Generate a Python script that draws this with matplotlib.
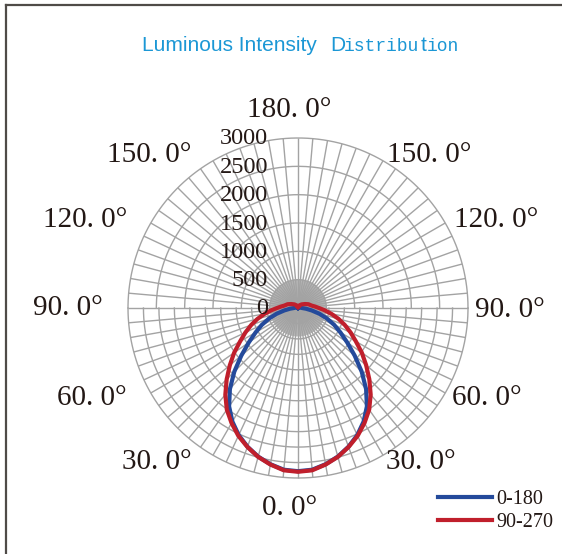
import numpy as np
import matplotlib
matplotlib.use("Agg")
from matplotlib import pyplot as plt
from matplotlib.lines import Line2D
from matplotlib.transforms import offset_copy

# Vinkler fra nadir (grader) og lysstyrke (cd) for de to planer
angles = [0, 5, 10, 15, 20, 25, 30, 35, 40, 45, 50, 55, 60, 65, 70,
          75, 80, 85, 90, 95, 100, 110, 120, 135, 150, 165, 180]
plane_0_180 = [2880, 2865, 2800, 2715, 2605, 2475, 2315, 2120, 1870, 1590,
               1305, 1060, 865, 705, 545, 390, 245, 140, 70, 55, 35, 25,
               18, 10, 0, 0, 0]
plane_90_270 = [2890, 2875, 2805, 2720, 2610, 2490, 2345, 2190, 1995, 1780,
                1570, 1375, 1180, 1025, 880, 740, 600, 475, 370, 300, 245,
                195, 140, 90, 55, 35, 20]
series_labels = ["0-180", "90-270"]

ring_values = [0, 500, 1000, 1500, 2000, 2500, 3000]
ring_labels = ["0", "500", "1000", "1500", "2000", "2500", "3000"]
angle_labels = ["180. 0°", "150. 0°", "150. 0°", "120. 0°", "120. 0°",
                "90. 0°", "90. 0°", "60. 0°", "60. 0°", "30. 0°", "30. 0°",
                "0. 0°"]
# placering af vinkeltekster i pixels (x, y fra toppen)
angle_label_pos = [(289, 110), (149, 155), (429, 155), (85, 220), (496, 220),
                   (68, 308), (510, 310), (92, 398), (487, 398), (157, 462),
                   (421, 462), (290, 508)]

W, H = 562, 554
GRID = "#a3a3a3"
TEXT = "#231815"
SERIF = "Liberation Serif"


def mirror(values):
    """Spejler en halv kurve (0..180) til hele cirklen."""
    a = np.deg2rad(np.asarray(angles, dtype=float))
    v = np.asarray(values, dtype=float)
    theta = np.concatenate([-a[::-1], a[1:]])
    r = np.concatenate([v[::-1], v[1:]])
    return theta, r


fig = plt.figure(figsize=(W / 100, H / 100), dpi=100)
ax = fig.add_axes([128 / W, (H - 478) / H, 340 / W, 340 / H], projection="polar")
ax.set_theta_zero_location("S")
ax.set_ylim(0, ring_values[-1])
ax.set_axis_off()

rmax = ring_values[-1]

# tætte eger i midten
ax.vlines(np.deg2rad(np.arange(0, 360, 1)), 0, 500, color="#b4b4b4",
          lw=0.6, clip_on=False, zorder=1)
# eger for hver 5 grader
ax.vlines(np.deg2rad(np.arange(0, 360, 5)), 0, rmax, color=GRID,
          lw=1.0, clip_on=False, zorder=1)

# ringe: øverste halvdel hver 500, nederste halvdel i 11 trin
upper = np.linspace(np.pi / 2, 3 * np.pi / 2, 200)
lower = np.linspace(-np.pi / 2, np.pi / 2, 200)
for rv in ring_values[1:]:
    ax.plot(upper, np.full_like(upper, rv), color=GRID, lw=1.0,
            clip_on=False, zorder=1)
for k in range(1, 12):
    ax.plot(lower, np.full_like(lower, rmax * k / 11), color=GRID, lw=1.0,
            clip_on=False, zorder=1)

# kurverne
th, r = mirror(plane_0_180)
l1, = ax.plot(th, r, color="#244a9b", lw=3, clip_on=False, zorder=3)
th, r = mirror(plane_90_270)
l2, = ax.plot(th, r, color="#c01f2c", lw=3, clip_on=False, zorder=4)

# radiale værdier langs den lodrette akse
trans = offset_copy(ax.transData, fig=fig, x=-30, y=-1, units="dots")
for rv, lab in zip(ring_values, ring_labels):
    ax.text(np.pi, rv, lab, transform=trans, ha="right", va="center",
            fontsize=17.5, family=SERIF, color=TEXT, zorder=5)

# vinkeltekster
for lab, (x, y) in zip(angle_labels, angle_label_pos):
    fig.text(x / W, 1 - y / H, lab, ha="center", va="center",
             fontsize=21, family=SERIF, color=TEXT)

# titel i blandede skrifttyper
BLUE = "#1b97d5"
base = 1 - 51 / H
fig.text(142 / W, base, "Luminous Intensity", fontsize=15,
         family="Liberation Sans", color=BLUE, va="baseline")
fig.text(330 / W, base, "D", fontsize=15, family="Liberation Sans",
         color=BLUE, va="baseline")
fig.text(344 / W, base, "istribu", fontsize=13, family="Liberation Mono",
         color=BLUE, va="baseline")
fig.text(421 / W, base, "t", fontsize=15, family="Liberation Sans",
         color=BLUE, va="baseline")
fig.text(427 / W, base, "ion", fontsize=13, family="Liberation Mono",
         color=BLUE, va="baseline")

# legende
fig.legend([l1, l2], series_labels, loc="upper left",
           bbox_to_anchor=(438 / W, 1 - 490 / H), frameon=False,
           prop={"family": SERIF, "size": 14.5}, handlelength=2.7,
           handletextpad=0.2, labelspacing=0.2, borderpad=0,
           borderaxespad=0, labelcolor=TEXT)

# ramme øverst og til venstre
fig.add_artist(Line2D([6.5 / W, 6.5 / W], [0, 1 - 4.5 / H], color="#4f4b48",
                      lw=1.6, transform=fig.transFigure))
fig.add_artist(Line2D([6.5 / W, 1], [1 - 4.5 / H, 1 - 4.5 / H],
                      color="#4f4b48", lw=1.6, transform=fig.transFigure))

fig.savefig("out.png", dpi=100)
